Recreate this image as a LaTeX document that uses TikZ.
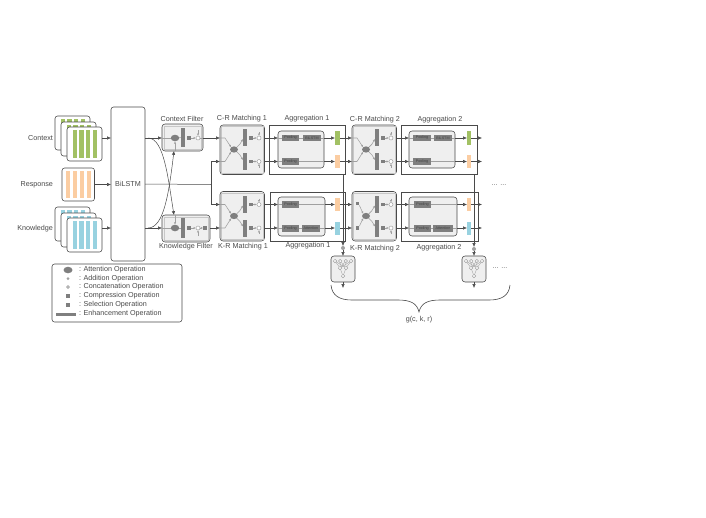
\documentclass[tikz,border=0pt]{standalone}
\usepackage{fontspec}
\setmainfont{Liberation Sans}
\usetikzlibrary{arrows.meta,shapes.geometric,calc}
\definecolor{ln}{HTML}{4A4A4A}
\definecolor{op}{HTML}{7F7F7F}
\definecolor{gl}{HTML}{A0A0A0}
\definecolor{panel}{HTML}{EFEFEF}
\definecolor{cgreen}{HTML}{A2C164}
\definecolor{cpeach}{HTML}{FBCDA2}
\definecolor{cblue}{HTML}{98D2E0}
\tikzset{
 every node/.style={inner sep=0pt,outer sep=0pt},
 lab/.style={font=\fontsize{7.2}{8}\selectfont,text=ln},
 tiny lab/.style={font=\fontsize{3.7}{4}\selectfont,text=black!75},
 arr/.style={draw=ln,line width=.5pt,-{Latex[length=3.8pt,width=3.4pt]}},
 plain/.style={draw=ln,line width=.5pt},
 garr/.style={draw=gl,line width=.55pt,-{Latex[length=2.4pt,width=2.2pt]}},
 gplain/.style={draw=gl,line width=.55pt},
 card/.style={draw=ln,line width=.55pt,fill=white,rounded corners=2.5pt},
 panelbox/.style={draw=ln,line width=.55pt,fill=panel,rounded corners=3pt},
 innerbox/.style={draw=black!22,line width=.6pt,fill=panel},
 framebox/.style={draw=ln,line width=.55pt},
 opbox/.style={fill=op},
 poolbox/.style={fill=op,tiny lab},
 ellop/.style={ellipse,fill=op},
 cop/.style={circle,draw=gl,line width=.5pt,fill=white,minimum size=4pt},
 gop/.style={circle,fill=gl,minimum size=4pt},
}
\newcommand\RN[7]{%
 \pgfmathsetmacro\rcx{(#3+#5)/2}\pgfmathsetmacro\rcy{(#4+#6)/2}%
 \pgfmathsetmacro\rw{#5-#3}\pgfmathsetmacro\rh{#6-#4}%
 \node[#1,minimum width=\rw pt,minimum height=\rh pt] (#2) at (\rcx,\rcy) {#7};}
% one card with four stripes; #1 name, #2 #3 top-left, #4 colour
\newcommand\StripeCard[4]{%
 \pgfmathsetmacro\sx{#2}\pgfmathsetmacro\sy{#3}%
 \pgfmathsetmacro\ex{\sx+35}\pgfmathsetmacro\ey{\sy+34}%
 \RN{card}{#1}{\sx}{\sy}{\ex}{\ey}{}%
 \foreach \k in {0,1,2,3}{%
  \fill[#4] ({#2+5.5+6.8*\k},{#3+3.3}) rectangle ++(4.2,27.4);}}
% matching block internals
\newcommand\MatchBlock[4]{%
 \begin{scope}[shift={(#2,#3)}]
 \RN{panelbox}{#1box}{0}{0}{44.5}{49.5}{}
 \RN{innerbox}{#1in}{1.7}{1.7}{42.8}{47.8}{}
 \node[ellop,minimum width=8pt,minimum height=6.3pt] (#1ell) at (14,24.5) {};
 \RN{opbox}{#1bt}{23}{4}{26.5}{21}{}
 \RN{opbox}{#1bb}{23}{28}{26.5}{45}{}
 \node[opbox,minimum size=3.8pt] (#1st) at (31,13) {};
 \node[opbox,minimum size=3.8pt] (#1sb) at (31,36.5) {};
 \node[cop] (#1ct) at (39,13) {};
 \node[cop] (#1cb) at (39,36.5) {};
 \coordinate (#1lt) at (0,13);\coordinate (#1lb) at (0,36.5);
 \coordinate (#1rt) at (44.5,13);\coordinate (#1rb) at (44.5,36.5);
 \coordinate (#1tt) at (39,7);\coordinate (#1tb) at (39,42.5);
 \ifnum#4=1
  \node[opbox,minimum size=3.8pt] (#1il) at (5.5,12) {};
  \node[opbox,minimum size=3.8pt] (#1jl) at (5.5,36.5) {};
  \draw[garr] (#1il.south east) -- (#1ell.north west);
  \draw[garr] (#1jl.north east) -- (#1ell.south west);
 \else
  \draw[garr] (#1lt) -- ++(5,0) -- (#1ell.north west);
  \draw[garr] (#1lb) -- ++(5,0) -- (#1ell.south west);
 \fi
 \draw[garr] (#1ell.north east) -- ++(3,-3) -- (#1bt.west |- 0,14);
 \draw[garr] (#1ell.south east) -- ++(3,3) -- (#1bb.west |- 0,35);
 \draw[garr] (#1st) -- (#1ct);
 \draw[garr] (#1sb) -- (#1cb);
 \draw[garr] (#1tt) -- (#1ct);
 \draw[garr] (#1tb) -- (#1cb);
 \end{scope}}
% tree block
\newcommand\TreeBlock[3]{%
 \begin{scope}[shift={(#2,#3)}]
 \RN{panelbox}{#1box}{-12}{0}{12}{26}{}
 \foreach \a/\x in {a/-8,b/-2.8,c/2.8,d/8}{\node[cop,minimum size=3.3pt] (#1\a) at (\x,5) {};}
 \foreach \a/\x in {e/-3,f/3}{\node[cop,minimum size=3.3pt] (#1\a) at (\x,12) {};}
 \node[cop,minimum size=3.3pt] (#1g) at (0,20) {};
 \foreach \s in {a,b,c,d}{\foreach \t in {e,f}{\draw[gplain,line width=.35pt] (#1\s) -- (#1\t);}}
 \foreach \t in {e,f}{\draw[gplain,line width=.35pt] (#1\t) -- (#1g);}
 \end{scope}}
\begin{document}
\begin{tikzpicture}[x=1pt,y=-1pt]
\useasboundingbox (0,0) rectangle (706,517);
\fill[white] (0,0) rectangle (706,517);

% input cards
\StripeCard{ca}{55}{116}{cgreen}\StripeCard{cb}{61}{122}{cgreen}\StripeCard{cc}{67}{127}{cgreen}
\StripeCard{ka}{55}{207}{cblue}\StripeCard{kb}{61}{213}{cblue}\StripeCard{kc}{67}{218}{cblue}
\RN{card}{rc}{62}{168}{94.5}{201}{}
\foreach \k in {0,1,2,3}{\fill[cpeach] ({66+7*\k},171) rectangle ++(4.2,27);}
\node[lab,anchor=east] (lc) at (53,138) {Context};
\node[lab,anchor=east] (lr) at (53,184.5) {Response};
\node[lab,anchor=east] (lk) at (53,229) {Knowledge};

% BiLSTM
\RN{card}{bi}{111}{107}{145}{261}{\fontsize{7.2}{8}\selectfont\color{ln} BiLSTM}
\coordinate (co) at (102,138);\coordinate (ko) at (102,228);
\draw[arr] (co) -- (co -| bi.west);
\draw[arr] (rc.east) -- (rc.east -| bi.west);
\draw[arr] (ko) -- (ko -| bi.west);

% filters
\node[lab] (cft) at (182,119) {Context Filter};
\RN{panelbox}{cf}{162}{124}{203}{151}{}
\RN{innerbox}{cfi}{164}{126}{201}{149}{}
\node[ellop,minimum width=8.5pt,minimum height=6.5pt] (cfe) at (175,138) {};
\RN{opbox}{cfb}{181}{128}{185}{147}{}
\node[opbox,minimum size=3.8pt] (cfs) at (189,138) {};
\node[cop] (cfc) at (198,138) {};
\coordinate (cftop) at (198,130);
\draw[garr] (cfs) -- (cfc);
\draw[garr] (cftop) -- (cfc);
\draw[gplain] (cfe) -- (cfb);
\node[lab] (kft) at (186,247) {Knowledge Filter};
\RN{panelbox}{kf}{162}{215}{210}{242}{}
\RN{innerbox}{kfi}{164}{217}{208}{240}{}
\node[ellop,minimum width=8.5pt,minimum height=6.5pt] (kfe) at (175,228) {};
\RN{opbox}{kfb}{181}{218}{185}{238}{}
\node[opbox,minimum size=3.8pt] (kfs) at (189,228) {};
\node[cop] (kfc) at (198,228) {};
\node[opbox,minimum width=3.5pt,minimum height=4.5pt] (kfx) at (205,228) {};
\coordinate (kfbot) at (198,236);
\draw[gplain] (kfe) -- (kfb);
\draw[garr] (kfs) -- (kfc);
\draw[garr] (kfbot) -- (kfc);
\draw[garr] (kfc) -- (kfx);

% BiLSTM to filters
\coordinate (bc) at (145,138);\coordinate (bk) at (145,228);
\draw[arr] (bc) -- (cf.west |- bc);
\draw[arr] (bk) -- (kf.west |- bk);
\draw[gplain] (cf.west |- bc) -- (cfe);
\draw[gplain] (kf.west |- bk) -- (kfe);
\draw[arr] (bk) ++(3,0) .. controls (164,228) and (169,192) .. (174,151);
\draw[arr] (bc) ++(3,0) .. controls (164,138) and (168,178) .. (174,215);
\draw[garr] (cf.south -| cfe) -- (cfe);
\draw[garr] (kf.north -| kfe) -- (kfe);

% response bus
\coordinate (bus) at (211,184.5);
\draw[plain] (bi.east) -- (bus);
\draw[arr] (cf.east |- bc) -- (220,138);
\draw[arr] (kf.east |- bk) -- (220,228);
\draw[gplain] (cfc) -- (cf.east |- cfc);

% matching blocks
\MatchBlock{mca}{220}{125}{0}
\MatchBlock{mka}{220}{191.5}{0}
\MatchBlock{mcb}{352}{125}{0}
\MatchBlock{mkb}{352}{191.5}{1}
\draw[plain] (bus) -- (bus |- mcalb);
\draw[arr] (bus |- mcalb) -- (mcalb);
\draw[plain] (bus) -- (bus |- mkalt);
\draw[arr] (bus |- mkalt) -- (mkalt);
\node[lab] (t1) at (242,119) {C-R Matching 1};
\node[lab] (t2) at (243,247) {K-R Matching 1};
\node[lab] (t3) at (375,120) {C-R Matching 2};
\node[lab] (t4) at (375,249) {K-R Matching 2};
\node[lab] (t5) at (307,119) {Aggregation 1};
\node[lab] (t6) at (308,246) {Aggregation 1};
\node[lab] (t7) at (440,120) {Aggregation 2};
\node[lab] (t8) at (439,248) {Aggregation 2};

% aggregation frames
\RN{framebox}{fa}{269}{125}{345}{174}{}
\RN{framebox}{fb}{270}{192}{345}{241}{}
\RN{framebox}{fc}{401}{125}{477}{174}{}
\RN{framebox}{fd}{401}{192}{478}{241}{}

% aggregation panels
\RN{panelbox}{aa}{278}{131}{324}{168}{}
\RN{panelbox}{ab}{278}{197}{325}{236}{}
\RN{panelbox}{ac}{409}{131}{455}{168}{}
\RN{panelbox}{ad}{409}{197}{457}{236}{}

% output bars
\RN{fill=cgreen}{b1}{335}{131}{340}{145}{}
\RN{fill=cpeach}{b2}{335}{155}{340}{168}{}
\RN{fill=cpeach}{b3}{335}{198}{340}{211}{}
\RN{fill=cblue}{b4}{335}{222}{340}{235}{}
\RN{fill=cgreen}{b5}{467}{131}{471}{145}{}
\RN{fill=cpeach}{b6}{467}{155}{471}{168}{}
\RN{fill=cpeach}{b7}{467}{198}{471}{211}{}
\RN{fill=cblue}{b8}{467}{222}{471}{235}{}

% connectors through the aggregation rows
\foreach \m/\a/\barn in {mcart/aa/b1,mcarb/aa/b2,mkart/ab/b3,mkarb/ab/b4}{%
 \draw[arr] (\m) -- (\a.west |- \m);
 \draw[gplain] (\a.west |- \m) -- (\a.east |- \m);
 \draw[arr] (\a.east |- \m) -- (\barn.west |- \m);
 \draw[arr] (\barn.east |- \m) -- (352,0 |- \m);
}
\foreach \m/\a/\barn in {mcbrt/ac/b5,mcbrb/ac/b6,mkbrt/ad/b7,mkbrb/ad/b8}{%
 \draw[arr] (\m) -- (\a.west |- \m);
 \draw[gplain] (\a.west |- \m) -- (\a.east |- \m);
 \draw[arr] (\a.east |- \m) -- (\barn.west |- \m);
 \draw[arr] (\barn.east |- \m) -- (482,0 |- \m);
}
\RN{poolbox}{p1}{282}{135}{299}{141}{Pooling}
\RN{poolbox}{p2}{303}{135}{321}{141}{BiLSTM}
\RN{poolbox}{p3}{282}{158}{299}{165}{Pooling}
\RN{poolbox}{p4}{282}{201}{299}{208}{Pooling}
\RN{poolbox}{p5}{282}{225}{299}{232}{Pooling}
\RN{poolbox}{p6}{302}{225}{320}{232}{Attention}
\RN{poolbox}{p7}{413}{135}{431}{141}{Pooling}
\RN{poolbox}{p8}{434}{135}{452}{141}{BiLSTM}
\RN{poolbox}{p9}{413}{158}{431}{165}{Pooling}
\RN{poolbox}{p10}{414}{201}{431}{208}{Pooling}
\RN{poolbox}{p11}{414}{225}{431}{232}{Pooling}
\RN{poolbox}{p12}{433}{225}{453}{232}{Attention}

% trees
\TreeBlock{ta}{343}{256}
\TreeBlock{tb}{474}{256}
\node[gop] (ga) at (343,248) {};
\node[gop] (gb) at (474,249) {};
\coordinate (va) at (343,174);\coordinate (vb) at (474,174);
\draw[arr] (va) -- (ga);
\draw[arr] (ga) -- (tabox.north);
\draw[arr] (vb) -- (gb);
\draw[arr] (gb) -- (tbbox.north);
\coordinate (oa) at (343,288);\coordinate (ob) at (474,288);
\draw[arr] (tabox.south) -- (oa);
\draw[arr] (tbbox.south) -- (ob);
\node[lab,text=black!60] (d1) at (499,185) {... ...};
\node[lab,text=black!60] (d2) at (500,268) {... ...};

% brace
\coordinate (bl) at (331,285);\coordinate (br) at (510,285);\coordinate (bt) at (419,312);
\draw[plain,line width=.6pt] (bl) .. controls (332,296) and (340,300) .. (352,300) -- (398,300)
 .. controls (410,300) and (417,303) .. (bt) .. controls (421,303) and (428,300) .. (440,300)
 -- (489,300) .. controls (501,300) and (509,296) .. (br);
\node[lab] (gt) at (419,319.5) {g(c, k, r)};

% legend
\RN{card}{leg}{52}{264}{182}{322}{}
\foreach \y/\t in {270/Attention,278.5/Addition,287/Concatenation,296/Compression,305/Selection,314/Enhancement}{
 \node[lab,anchor=west] (lg\t) at (79,\y) {: \t{} Operation};}
\node[ellop,minimum width=9pt,minimum height=6.5pt] (la) at (68,270) {};
\node[gop,minimum size=3pt] (lb) at (68,278.5) {};
\node[cop,minimum size=3pt,fill=gl!60] (lc2) at (68,287) {};
\node[opbox,minimum size=3.8pt] (ld) at (68,296) {};
\node[opbox,minimum width=3.5pt,minimum height=4.5pt] (le) at (68,305) {};
\RN{opbox}{lf}{56}{312.5}{76}{315.5}{}
\end{tikzpicture}
\end{document}
